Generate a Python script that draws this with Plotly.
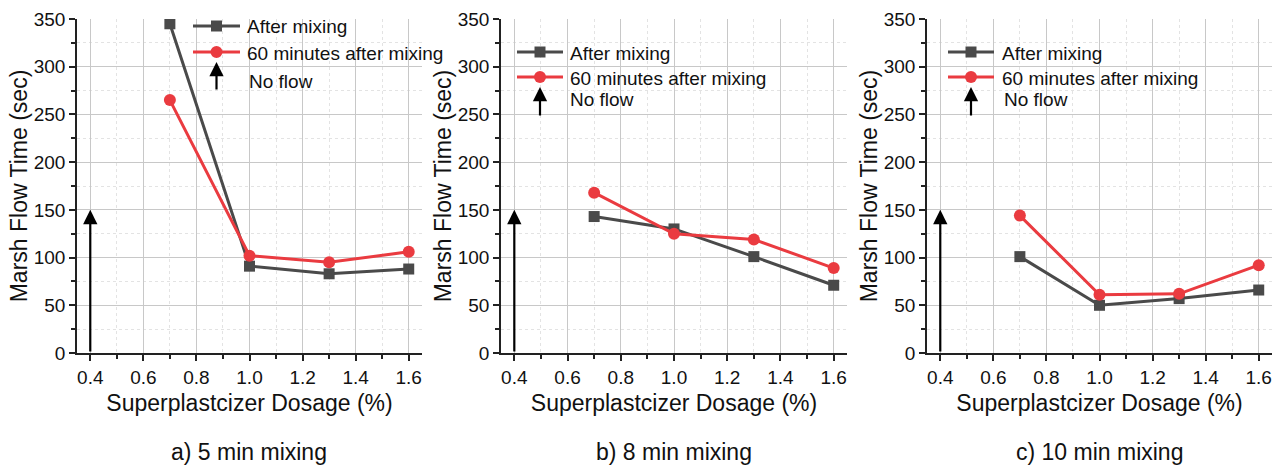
import plotly.graph_objects as go

# ---- data ----
dosage = [0.7, 1.0, 1.3, 1.6]
panel_titles = ["a) 5 min mixing", "b) 8 min mixing", "c) 10 min mixing"]
after_mixing = {
    "a": [345, 91, 83, 88],
    "b": [143, 130, 101, 71],
    "c": [101, 50, 57, 66],
}
after_60 = {
    "a": [265, 102, 95, 106],
    "b": [168, 125, 119, 89],
    "c": [144, 61, 62, 92],
}
no_flow_dosage = 0.4
no_flow_height = 150
series_names = ["After mixing", "60 minutes after mixing"]
no_flow_label = "No flow"

GRAY = "#4a4a4a"
RED = "#ea3b40"
FONT = "Liberation Sans, Arial, sans-serif"

W, H = 1279, 465
ML, MR, MT, MB = 77, 7, 19, 112
pw = W - ML - MR
ph = H - MT - MB
px_ranges = [(0, 345), (424, 770), (850, 1195)]
domains = [[a / pw, b / pw] for a, b in px_ranges]

# legend layout in page pixels
legend_px = [
    dict(x0=193, x1=240, r1=26, r2=52, tx=245, tip=62, tail=91, nfx=247, nfy=81),
    dict(x0=517, x1=563, r1=52, r2=77, tx=568, tip=87, tail=117, nfx=568, nfy=100),
    dict(x0=948, x1=994, r1=52, r2=77, tx=1000, tip=87, tail=117, nfx=1002, nfy=100),
]


def px(x):
    return (x - ML) / pw


def py(y):
    return (H - MB - y) / ph


fig = go.Figure()
keys = ["a", "b", "c"]
for i, k in enumerate(keys):
    xa = "x" if i == 0 else f"x{i+1}"
    ya = "y" if i == 0 else f"y{i+1}"
    fig.add_trace(go.Scatter(
        x=dosage, y=after_mixing[k], name=series_names[0], mode="lines+markers",
        line=dict(color=GRAY, width=3), marker=dict(symbol="square", size=11, color=GRAY),
        xaxis=xa, yaxis=ya, showlegend=False))
    fig.add_trace(go.Scatter(
        x=dosage, y=after_60[k], name=series_names[1], mode="lines+markers",
        line=dict(color=RED, width=3), marker=dict(symbol="circle", size=12, color=RED),
        xaxis=xa, yaxis=ya, showlegend=False))

axis_common = dict(
    showline=True, linecolor="#222222", linewidth=1.5,
    ticks="outside", ticklen=6, tickwidth=1.5, tickcolor="#222222",
    showgrid=True, gridcolor="#c8c8c8", gridwidth=1,
    tickfont=dict(family=FONT, size=19, color="#111111"),
    zeroline=False, mirror=False,
)

layout = dict(
    width=W, height=H, margin=dict(l=ML, r=MR, t=MT, b=MB),
    paper_bgcolor="white", plot_bgcolor="white",
    font=dict(family=FONT, color="#111111"),
    annotations=[], shapes=[], showlegend=False,
)

for i in range(3):
    sx = "" if i == 0 else str(i + 1)
    layout[f"xaxis{sx}"] = dict(
        axis_common, domain=domains[i], range=[0.35, 1.65], dtick=0.2, tick0=0.4,
        tickformat=".1f", anchor=f"y{sx}",
        minor=dict(dtick=0.1, tick0=0.4, ticks="outside", ticklen=4, tickcolor="#222222",
                   showgrid=True, gridcolor="#e3e3e3", griddash="dot"),
        title=dict(text="Superplastcizer Dosage (%)", font=dict(family=FONT, size=23), standoff=8),
    )
    layout[f"yaxis{sx}"] = dict(
        axis_common, domain=[0, 1], range=[0, 350], dtick=50, anchor=f"x{sx}",
        minor=dict(dtick=25, ticks="outside", ticklen=4, tickcolor="#222222",
                   showgrid=True, gridcolor="#e3e3e3", griddash="dot"),
        title=dict(text="Marsh Flow Time (sec)", font=dict(family=FONT, size=23), standoff=0),
    )
    # No-flow arrow at the lowest dosage
    layout["annotations"].append(dict(
        x=no_flow_dosage, y=no_flow_height, ax=no_flow_dosage, ay=0,
        xref=f"x{sx}", yref=f"y{sx}", axref=f"x{sx}", ayref=f"y{sx}",
        showarrow=True, arrowhead=2, arrowsize=1.3, arrowwidth=2.2, arrowcolor="black", text=""))

    # ---- legend (drawn) ----
    L = legend_px[i]
    mx = (L["x0"] + L["x1"]) / 2
    for row, color, sym, name in [(L["r1"], GRAY, "rect", series_names[0]),
                                  (L["r2"], RED, "circle", series_names[1])]:
        layout["shapes"].append(dict(
            type="line", xref="paper", yref="paper",
            x0=px(L["x0"]), x1=px(L["x1"]), y0=py(row), y1=py(row),
            line=dict(color=color, width=3)))
        s = 5.5 if sym == "rect" else 6
        layout["shapes"].append(dict(
            type=sym, xref="paper", yref="paper", xsizemode="pixel", ysizemode="pixel",
            xanchor=px(mx), yanchor=py(row), x0=-s, x1=s, y0=-s, y1=s,
            fillcolor=color, line=dict(color=color, width=0)))
        layout["annotations"].append(dict(
            x=px(L["tx"]), y=py(row + 1), xref="paper", yref="paper",
            xanchor="left", yanchor="middle", text=name, showarrow=False,
            font=dict(family=FONT, size=19, color="#111111")))
    layout["annotations"].append(dict(
        x=px(mx), y=py(L["tip"]), xref="paper", yref="paper",
        ax=0, ay=L["tail"] - L["tip"], showarrow=True, arrowhead=2, arrowsize=1.3,
        arrowwidth=2.2, arrowcolor="black", text=""))
    layout["annotations"].append(dict(
        x=px(L["nfx"]), y=py(L["nfy"]), xref="paper", yref="paper",
        xanchor="left", yanchor="middle", text=no_flow_label, showarrow=False,
        font=dict(family=FONT, size=19, color="#111111")))

    cx = (px_ranges[i][0] + px_ranges[i][1]) / 2 / pw
    layout["annotations"].append(dict(
        x=cx, y=py(452), xref="paper", yref="paper",
        xanchor="center", yanchor="middle", text=panel_titles[i], showarrow=False,
        font=dict(family=FONT, size=23, color="#111111")))

fig.update_layout(**layout)
fig.write_html("out.html")
